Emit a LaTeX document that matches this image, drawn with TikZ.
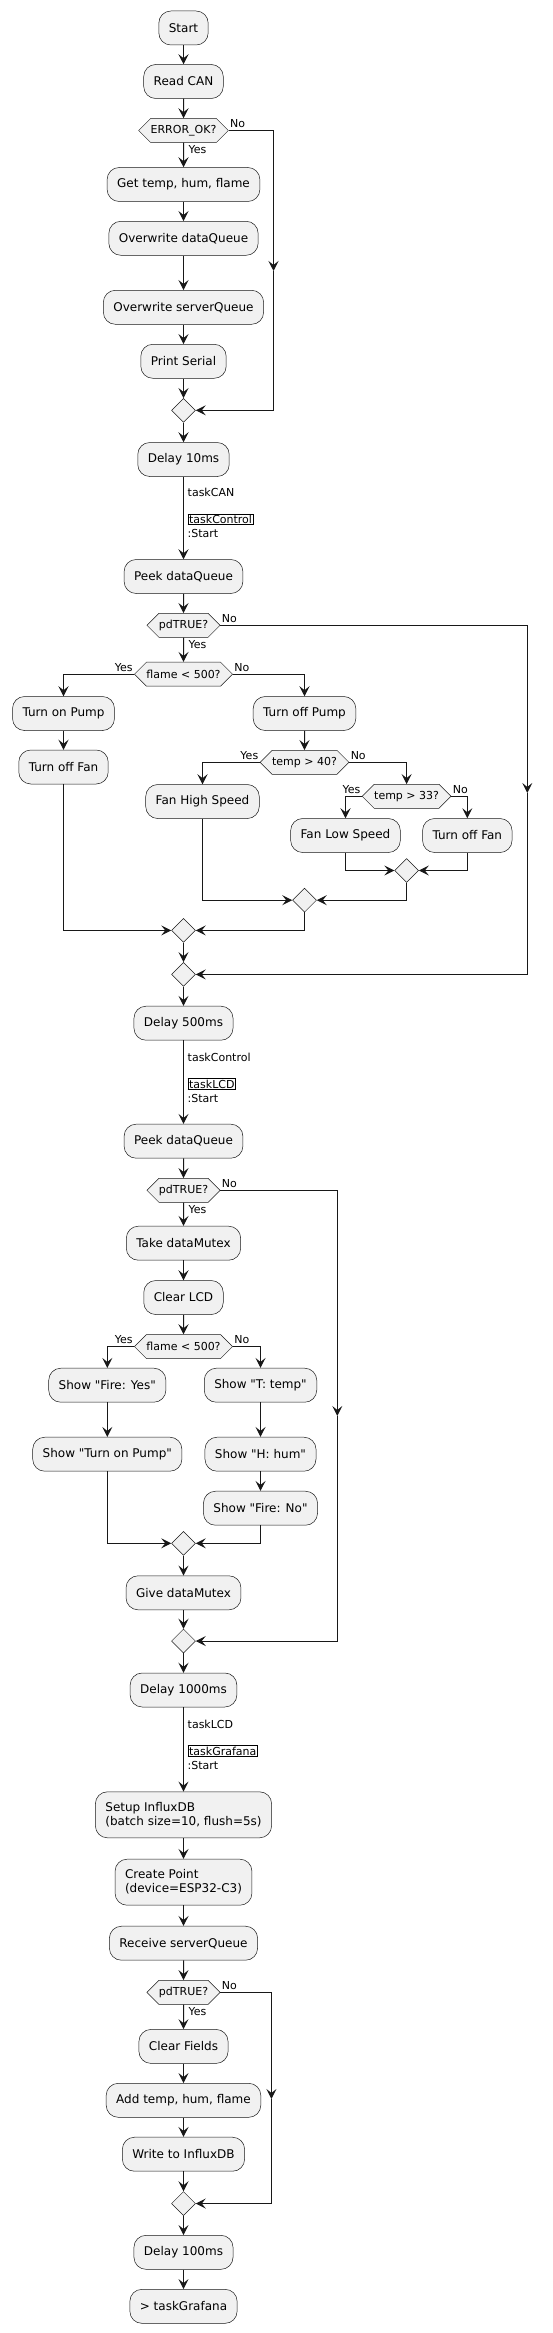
\documentclass[tikz,border=0pt]{standalone}
\usepackage{fontspec}
\setmainfont{DejaVu Sans}[Ligatures=TeXOff]
\usepackage{tikz}
\usetikzlibrary{arrows.meta,shapes.geometric,shapes.symbols,positioning}
\definecolor{edgecol}{HTML}{181818}
\definecolor{boxfill}{HTML}{F1F1F1}
\setlength{\fboxsep}{0.6pt}
\setlength{\fboxrule}{0.8pt}

\begin{document}
\begin{tikzpicture}[x=1pt, y=-1pt,
  act/.style={draw=edgecol, fill=boxfill, line width=0.5pt, rounded corners=12pt,
              minimum height=34pt, inner xsep=10pt, inner ysep=3pt,
              font=\fontsize{12}{14}\selectfont, align=left},
  cond/.style={draw=edgecol, fill=boxfill, line width=0.5pt, signal,
               signal to=east and west, signal pointer angle=90,
               minimum height=24pt, inner xsep=0pt, inner ysep=0pt,
               font=\fontsize{11}{13}\selectfont},
  merge/.style={draw=edgecol, fill=boxfill, line width=0.5pt, diamond,
                minimum width=24pt, minimum height=24pt, inner sep=0pt},
  arr/.style={draw=edgecol, line width=1pt, -{Stealth[length=10pt, width=10pt, inset=4pt]}},
  lbl/.style={inner sep=0pt, font=\fontsize{11}{14}\selectfont, align=left}]
  \useasboundingbox (0,0) rectangle (552,2333);

  % taskCAN
  \node[act] (start) at (183.5,28) {Start};
  \node[act] (readcan) at (183.5,81.5) {Read CAN};
  \node[cond] (q1) at (183.5,130.5) {ERROR\_OK?};
  \node[act] (gettemp) at (183.5,184.5) {Get temp, hum, flame};
  \node[act] (owdata) at (183.5,238.3) {Overwrite dataQueue};
  \node[act] (owserver) at (183.5,307.3) {Overwrite serverQueue};
  \node[act] (print) at (183.5,361.3) {Print Serial};
  \node[merge] (m1) at (183.5,410.3) {};
  \node[act] (delay10) at (183.5,459.5) {Delay 10ms};
  \node[lbl, anchor=north west] (tc1) at (187.5,488) {taskCAN\\[13pt]\fbox{taskControl}\\:Start};
  \coordinate (c1a) at (273.5,130.5);
  \coordinate (c1b) at (273.5,271);
  \coordinate (c1c) at (273.5,410.3);

  \draw[arr] (start) -- (readcan);
  \draw[arr] (readcan) -- (q1);
  \draw[arr] (q1) -- node[lbl, pos=0, anchor=north west, xshift=4.5pt, yshift=-2pt] (y1) {Yes} (gettemp);
  \draw[arr] (gettemp) -- (owdata);
  \draw[arr] (owdata) -- (owserver);
  \draw[arr] (owserver) -- (print);
  \draw[arr] (print) -- (m1);
  \draw[arr] (q1.east) -- node[lbl, pos=0, anchor=south west, xshift=1pt, yshift=2pt] (n1) {No} (c1a) -- (c1b);
  \draw[arr] (c1b) -- (c1c) -- (m1.east);
  \draw[arr] (m1) -- (delay10);

  % taskControl
  \node[act] (peek1) at (183.5,576.5) {Peek dataQueue};
  \node[cond] (q2) at (183.5,625.3) {pdTRUE?};
  \node[cond] (q3) at (183.5,674.2) {flame < 500?};
  \node[act] (pumpon) at (63.5,713.5) {Turn on Pump};
  \node[act] (fanoff1) at (63.5,767) {Turn off Fan};
  \node[act] (pumpoff) at (304.5,713.5) {Turn off Pump};
  \node[cond] (q4) at (304.5,762.3) {temp > 40?};
  \node[act] (fanhigh) at (202.5,801.5) {Fan High Speed};
  \node[cond] (q5) at (406.6,796.3) {temp > 33?};
  \node[act] (fanlow) at (345.5,835.5) {Fan Low Speed};
  \node[act] (fanoff2) at (467.3,835.5) {Turn off Fan};
  \node[merge] (m5) at (406.6,870.5) {};
  \node[merge] (m4) at (304.5,900.2) {};
  \node[merge] (m3) at (183.5,930.4) {};
  \node[merge] (m2) at (183.5,974.4) {};
  \node[act] (delay500) at (183.5,1023.2) {Delay 500ms};
  \node[lbl, anchor=north west] (tc2) at (187.5,1052.5) {taskControl\\[13pt]\fbox{taskLCD}\\:Start};
  \coordinate (c2a) at (527.3,625.3);
  \coordinate (c2b) at (527.3,793);
  \coordinate (c2c) at (527.3,974.4);

  \draw[arr] (delay10) -- (peek1);
  \draw[arr] (peek1) -- (q2);
  \draw[arr] (q2) -- node[lbl, pos=0, anchor=north west, xshift=4.5pt, yshift=-2pt] (y2) {Yes} (q3);
  \draw[arr] (q3.west) -| node[lbl, pos=0, anchor=south east, xshift=-1pt, yshift=2pt] (y3) {Yes} (pumpon.north);
  \draw[arr] (q3.east) -| node[lbl, pos=0, anchor=south west, xshift=1pt, yshift=2pt] (n3) {No} (pumpoff.north);
  \draw[arr] (pumpon) -- (fanoff1);
  \draw[arr] (pumpoff) -- (q4);
  \draw[arr] (q4.west) -| node[lbl, pos=0, anchor=south east, xshift=-1pt, yshift=2pt] (y4) {Yes} (fanhigh.north);
  \draw[arr] (q4.east) -| node[lbl, pos=0, anchor=south west, xshift=1pt, yshift=2pt] (n4) {No} (q5.north);
  \draw[arr] (q5.west) -| node[lbl, pos=0, anchor=south east, xshift=-1pt, yshift=2pt] (y5) {Yes} (fanlow.north);
  \draw[arr] (q5.east) -| node[lbl, pos=0, anchor=south west, xshift=1pt, yshift=2pt] (n5) {No} (fanoff2.north);
  \draw[arr] (fanlow.south) |- (m5.west);
  \draw[arr] (fanoff2.south) |- (m5.east);
  \draw[arr] (fanhigh.south) |- (m4.west);
  \draw[arr] (m5.south) |- (m4.east);
  \draw[arr] (fanoff1.south) |- (m3.west);
  \draw[arr] (m4.south) |- (m3.east);
  \draw[arr] (m3) -- (m2);
  \draw[arr] (q2.east) -- node[lbl, pos=0, anchor=south west, xshift=1pt, yshift=2pt] (n2) {No} (c2a) -- (c2b);
  \draw[arr] (c2b) -- (c2c) -- (m2.east);
  \draw[arr] (m2) -- (delay500);

  % taskLCD
  \node[act] (peek2) at (183.5,1141.2) {Peek dataQueue};
  \node[cond] (q6) at (183.5,1190.3) {pdTRUE?};
  \node[act] (takemtx) at (183.5,1243.2) {Take dataMutex};
  \node[act] (clearlcd) at (183.5,1297.5) {Clear LCD};
  \node[cond] (q7) at (183.5,1346.5) {flame < 500?};
  \node[act] (fireyes) at (107.3,1385.2) {Show "Fire: Yes"};
  \node[act] (showpump) at (107.3,1454.2) {Show "Turn on Pump"};
  \node[act] (showtemp) at (260.5,1385.2) {Show "T: temp"};
  \node[act] (showhum) at (260.5,1454.2) {Show "H: hum"};
  \node[act] (fireno) at (260.5,1508.2) {Show "Fire: No"};
  \node[merge] (m7) at (183.5,1543.3) {};
  \node[act] (givemtx) at (183.5,1592.8) {Give dataMutex};
  \node[merge] (m6) at (183.5,1641) {};
  \node[act] (delay1000) at (183.5,1690) {Delay 1000ms};
  \node[lbl, anchor=north west] (tc3) at (187.5,1719.5) {taskLCD\\[13pt]\fbox{taskGrafana}\\:Start};
  \coordinate (c6a) at (337.3,1190.3);
  \coordinate (c6b) at (337.3,1416);
  \coordinate (c6c) at (337.3,1641);

  \draw[arr] (delay500) -- (peek2);
  \draw[arr] (peek2) -- (q6);
  \draw[arr] (q6) -- node[lbl, pos=0, anchor=north west, xshift=4.5pt, yshift=-2pt] (y6) {Yes} (takemtx);
  \draw[arr] (takemtx) -- (clearlcd);
  \draw[arr] (clearlcd) -- (q7);
  \draw[arr] (q7.west) -| node[lbl, pos=0, anchor=south east, xshift=-1pt, yshift=2pt] (y7) {Yes} (fireyes.north);
  \draw[arr] (q7.east) -| node[lbl, pos=0, anchor=south west, xshift=1pt, yshift=2pt] (n7) {No} (showtemp.north);
  \draw[arr] (fireyes) -- (showpump);
  \draw[arr] (showtemp) -- (showhum);
  \draw[arr] (showhum) -- (fireno);
  \draw[arr] (showpump.south) |- (m7.west);
  \draw[arr] (fireno.south) |- (m7.east);
  \draw[arr] (m7) -- (givemtx);
  \draw[arr] (givemtx) -- (m6);
  \draw[arr] (q6.east) -- node[lbl, pos=0, anchor=south west, xshift=1pt, yshift=2pt] (n6) {No} (c6a) -- (c6b);
  \draw[arr] (c6b) -- (c6c) -- (m6.east);
  \draw[arr] (m6) -- (delay1000);

  % taskGrafana
  \node[act, minimum height=46pt] (setupdb) at (183.5,1814.8) {Setup InfluxDB\\(batch size=10, flush=5s)};
  \node[act, minimum height=46pt] (creatept) at (183.5,1882.2) {Create Point\\(device=ESP32-C3)};
  \node[act] (recv) at (183.5,1943.2) {Receive serverQueue};
  \node[cond] (q8) at (183.5,1992.3) {pdTRUE?};
  \node[act] (clearf) at (183.5,2046.4) {Clear Fields};
  \node[act] (addf) at (183.5,2100.3) {Add temp, hum, flame};
  \node[act] (writedb) at (183.5,2154.2) {Write to InfluxDB};
  \node[merge] (m8) at (183.5,2203.5) {};
  \node[act] (delay100) at (183.5,2252.3) {Delay 100ms};
  \node[act] (endtask) at (183.5,2306.3) {> taskGrafana};
  \coordinate (c8a) at (271.4,1992.3);
  \coordinate (c8b) at (271.4,2099);
  \coordinate (c8c) at (271.4,2203.5);

  \draw[arr] (delay1000) -- (setupdb);
  \draw[arr] (setupdb) -- (creatept);
  \draw[arr] (creatept) -- (recv);
  \draw[arr] (recv) -- (q8);
  \draw[arr] (q8) -- node[lbl, pos=0, anchor=north west, xshift=4.5pt, yshift=-2pt] (y8) {Yes} (clearf);
  \draw[arr] (clearf) -- (addf);
  \draw[arr] (addf) -- (writedb);
  \draw[arr] (writedb) -- (m8);
  \draw[arr] (q8.east) -- node[lbl, pos=0, anchor=south west, xshift=1pt, yshift=2pt] (n8) {No} (c8a) -- (c8b);
  \draw[arr] (c8b) -- (c8c) -- (m8.east);
  \draw[arr] (m8) -- (delay100);
  \draw[arr] (delay100) -- (endtask);
\end{tikzpicture}
\end{document}
